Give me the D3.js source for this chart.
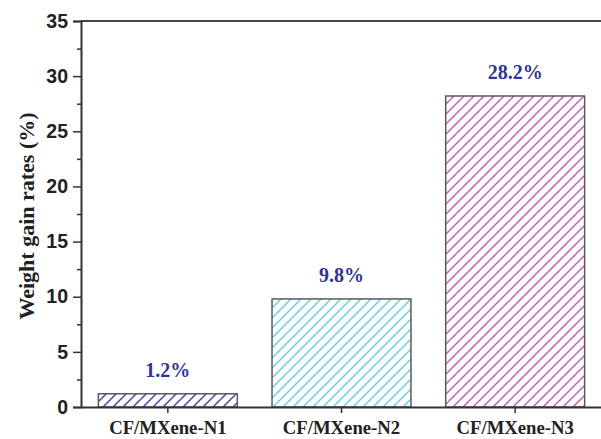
<!DOCTYPE html>
<html>
<head>
<meta charset="utf-8">
<script src="https://cdn.jsdelivr.net/npm/d3@7"></script>
<style>
  html, body { margin: 0; padding: 0; background: #fff; }
  svg { display: block; }
</style>
</head>
<body>
<script>
const categories = ["CF/MXene-N1", "CF/MXene-N2", "CF/MXene-N3"];
const values = [1.2, 9.8, 28.2];
const valueLabels = ["1.2%", "9.8%", "28.2%"];
const hatchColors = ["#464ba0", "#6ccfdb", "#c363b4"];
const yTicks = [0, 5, 10, 15, 20, 25, 30, 35];
const yMinorTicks = [2.5, 7.5, 12.5, 17.5, 22.5, 27.5, 32.5];
const yLabel = "Weight gain rates (%)";

const W = 601, H = 439;
const m = { left: 81, right: -1, top: 21, bottom: 32 };

const svg = d3.select("body").append("svg").attr("width", W).attr("height", H);
svg.append("rect").attr("width", W).attr("height", H).attr("fill", "#fff");

const x = d3.scaleBand().domain(categories).range([m.left, W - m.right]).paddingInner(0.2).paddingOuter(0.1);
const y = d3.scaleLinear().domain([0, 35]).range([H - m.bottom, m.top]);

const defs = svg.append("defs");
hatchColors.forEach((c, i) => {
  const p = defs.append("pattern").attr("id", "hatch" + i)
    .attr("patternUnits", "userSpaceOnUse").attr("width", 10).attr("height", 10);
  p.append("rect").attr("width", 10).attr("height", 10).attr("fill", "#fff");
  p.append("path").attr("d", "M-1,11 L11,-1 M-6,6 L6,-6 M4,16 L16,4")
    .attr("stroke", c).attr("stroke-width", 1.5).attr("fill", "none");
});

// bars
svg.selectAll("rect.bar").data(categories).enter().append("rect")
  .attr("class", "bar")
  .attr("x", d => x(d))
  .attr("y", (d, i) => y(values[i]))
  .attr("width", x.bandwidth())
  .attr("height", (d, i) => y(0) - y(values[i]))
  .attr("fill", (d, i) => `url(#hatch${i})`)
  .attr("stroke", "#5a5a5a").attr("stroke-width", 1.5);

// value labels
svg.selectAll("text.val").data(categories).enter().append("text")
  .attr("x", d => x(d) + x.bandwidth() / 2)
  .attr("y", (d, i) => y(values[i]) - 17)
  .attr("text-anchor", "middle")
  .attr("font-family", "'Liberation Serif', 'Times New Roman', serif")
  .attr("font-weight", "bold").attr("font-size", "20px")
  .attr("fill", "#2f3595")
  .text((d, i) => valueLabels[i]);

// top border
svg.append("line").attr("x1", m.left).attr("x2", W + 2).attr("y1", y(35)).attr("y2", y(35))
  .attr("stroke", "#444").attr("stroke-width", 2);

// y axis
const yAxis = svg.append("g").attr("transform", `translate(${m.left},0)`)
  .call(d3.axisLeft(y).tickValues(yTicks).tickSize(8).tickPadding(5).tickFormat(d3.format("d")));
yAxis.select(".domain").attr("stroke", "#333").attr("stroke-width", 2);
yAxis.selectAll(".tick line").attr("stroke", "#333").attr("stroke-width", 1.5);
yAxis.selectAll(".tick text").attr("font-family", "'Liberation Sans', Arial, sans-serif")
  .attr("font-weight", "bold").attr("font-size", "19.5px").attr("fill", "#222");
svg.append("g").attr("transform", `translate(${m.left},0)`)
  .call(d3.axisLeft(y).tickValues(yMinorTicks).tickSize(4).tickFormat(""))
  .call(g => g.select(".domain").remove())
  .selectAll(".tick line").attr("stroke", "#333").attr("stroke-width", 1.5);

// x axis
const xAxis = svg.append("g").attr("transform", `translate(0,${y(0)})`)
  .call(d3.axisBottom(x).tickSize(6).tickPadding(8).tickSizeOuter(0));
xAxis.select(".domain").attr("stroke", "#333").attr("stroke-width", 2);
xAxis.selectAll(".tick line").attr("stroke", "#333").attr("stroke-width", 1.5);
xAxis.selectAll(".tick text").attr("font-family", "'Liberation Serif', 'Times New Roman', serif")
  .attr("font-weight", "bold").attr("font-size", "18.7px").attr("fill", "#222");

// y label
svg.append("text").attr("transform", `translate(34,${(y(0) + y(35)) / 2 + 2}) rotate(-90)`)
  .attr("text-anchor", "middle")
  .attr("font-family", "'Liberation Serif', 'Times New Roman', serif")
  .attr("font-weight", "bold").attr("font-size", "22px").attr("fill", "#222")
  .text(yLabel);
</script>
</body>
</html>
